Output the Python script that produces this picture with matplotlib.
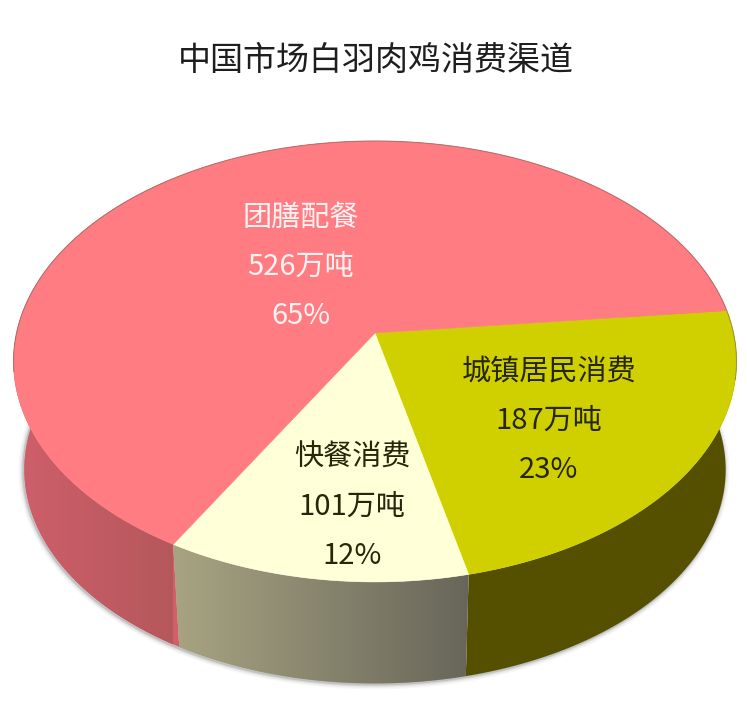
import matplotlib
matplotlib.use("Agg")
import matplotlib.pyplot as plt
from matplotlib.colors import LinearSegmentedColormap
from matplotlib.patches import Polygon
import numpy as np

plt.rcParams['font.family'] = ['Noto Sans CJK SC', 'DejaVu Sans']

title = "中国市场白羽肉鸡消费渠道"

# clockwise from the right hand edge of the pie
categories = ["城镇居民消费", "快餐消费", "团膳配餐"]
tonnes = [187, 101, 526]
percents = [23, 12, 65]

top_colors = ["#d0d000", "#ffffd8", "#ff7c82"]
side_colors = [["#555000", "#555000"],
               ["#a8a482", "#68665a"],
               ["#cf5f6b", "#b5585c"]]
text_colors = ["#26260a", "#26260a", "#fff2f2"]
label_x = [549, 352, 301]
label_y = [372, 458, 218]
line_step = 49

start_angle = 6.0

# pie projection, pixel units
apex_x, apex_y = 375, 333
radius_x, radius_y = 358.5, 216.8
tilt = 0.129
base_scale = 0.97
base_drop = 109


def project(theta, base=False):
    # unit circle -> picture, with a little perspective
    u = np.cos(theta)
    v = np.sin(theta)
    w = 1 + tilt * v
    dx = radius_x * u / w
    dy = -radius_y * v / w
    if base:
        return apex_x + base_scale * dx, apex_y + base_scale * dy + base_drop
    return apex_x + dx, apex_y + dy


fig = plt.figure(figsize=(7.47, 7.22), dpi=100)
ax = fig.add_axes([0, 0, 1, 1])

# the slices in the picture follow the rounded percentages
edges = start_angle - 360 * np.cumsum([0] + percents) / np.sum(percents)

# soft shadow along the lower rim
rim = np.radians(np.linspace(-200, 20, 300))
rim_x, rim_y = project(rim, base=True)
for lw, alpha in zip([7, 5, 3, 1.5], [0.04, 0.06, 0.10, 0.16]):
    ax.plot(rim_x - 1, rim_y + 1, color="#404040", lw=lw, alpha=alpha, zorder=1)

# sides first, the top faces cover whatever is behind them
for i in range(len(percents)):
    theta = np.radians(np.linspace(edges[i], edges[i + 1], 200))
    tx, ty = project(theta)
    bx, by = project(theta, base=True)
    outline = np.column_stack([np.r_[tx, bx[::-1]], np.r_[ty, by[::-1]]])
    side = Polygon(outline, closed=True, fc=side_colors[i][0], ec="none", zorder=2)
    ax.add_patch(side)
    if side_colors[i][0] != side_colors[i][1]:
        # gradient runs left to right over the part facing the viewer
        front = theta[np.degrees(theta) > -185]
        x0, x1 = project(front)[0].min(), project(front)[0].max()
        cmap = LinearSegmentedColormap.from_list("side", side_colors[i])
        img = ax.imshow(np.linspace(0, 1, 256).reshape(1, -1), cmap=cmap, aspect="auto",
                        extent=[x0, x1, 722, 0], zorder=3)
        img.set_clip_path(Polygon(outline, closed=True, transform=ax.transData))

for i in range(len(percents)):
    theta = np.radians(np.linspace(edges[i], edges[i + 1], 300))
    tx, ty = project(theta)
    ax.fill(np.r_[apex_x, tx], np.r_[apex_y, ty], color=top_colors[i], lw=0.4, zorder=4)

# thin dark edge along the back of the top face
back = np.radians(np.linspace(-12, 190, 300))
ax.plot(*project(back), color="#6a5a50", lw=0.8, alpha=0.45, zorder=4)

for i in range(len(categories)):
    lines = [categories[i], f"{tonnes[i]}万吨", f"{percents[i]}%"]
    for j, line in enumerate(lines):
        ax.text(label_x[i], label_y[i] + j * line_step, line, color=text_colors[i],
                fontsize=21, ha="center", va="center", zorder=5)

ax.text(376, 60, title, color="#1e1e1e", fontsize=23.8, ha="center", va="center")

ax.set_xlim(0, 747)
ax.set_ylim(722, 0)
ax.axis("off")

fig.savefig("out.png", dpi=100, facecolor="white")
